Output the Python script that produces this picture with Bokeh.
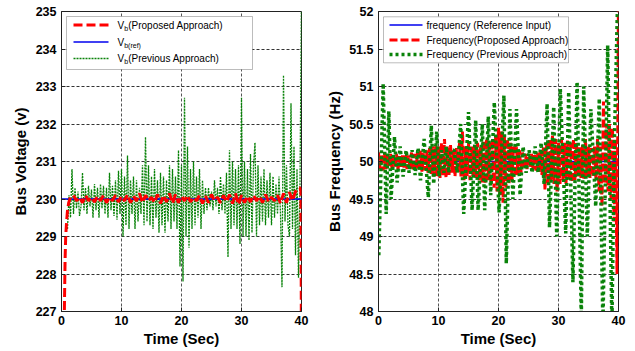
import numpy as np
from bokeh.plotting import figure
from bokeh.layouts import row
from bokeh.models import Range1d, FixedTicker, Label, BoxAnnotation, Arrow
from bokeh.embed import file_html
from bokeh.resources import INLINE

FONT = "Liberation Sans"

# ---------------- Left chart: bus voltage ----------------
v_ref_t = [0.0, 40.0]
v_ref = [230.0, 230.0]

v_prop_rise_t = [0.4, 0.5, 0.6, 0.7, 0.85, 1.0, 1.2, 1.5]
v_prop_rise = [226.0, 227.3, 228.4, 229.0, 229.4, 229.7, 229.9, 230.05]
v_prop_main = [
    230.1, 229.95, 230.05, 229.9, 230.1, 229.95, 230.05, 229.92, 230.08, 229.95,
    230.1, 229.9, 230.05, 229.95, 230.1, 229.92, 230.08, 229.95, 230.12, 229.9,
    230.08, 229.95, 230.15, 229.9, 230.1, 229.95, 230.05, 229.9, 230.12, 229.88,
    230.1, 229.92, 230.15, 229.88, 230.12, 229.9, 230.08, 229.95, 230.1, 229.92,
    230.05, 229.95, 230.1, 229.88, 230.08, 229.9, 230.12, 229.95, 230.05, 229.9,
    230.1, 229.92, 230.12, 229.88, 230.15, 229.85, 230.1, 229.9, 230.08, 229.92,
    230.1, 229.95, 230.08, 229.9, 230.12, 229.92, 230.05, 229.95, 230.1, 229.88,
    230.15, 229.9, 230.18, 229.95, 230.2, 230.3,
]
v_prop_tail_t = [39.75, 39.9, 40.0]
v_prop_tail = [230.3, 230.2, 225.5]

v_prev = [
    229.2, 230.1, 229.5, 230.8, 229.6, 230.3, 229.75, 230.2, 229.55, 229.8,
    230.7, 229.7, 230.3, 229.6, 230.35, 229.8, 230.25,
    229.5, 230.4, 229.7, 230.3, 229.5, 230.4, 229.75, 230.35, 229.6, 230.3,
    229.5, 230.7, 229.7, 230.35, 229.55, 230.5, 229.45, 230.75, 229.6, 230.8,
    229.0, 230.6, 229.3, 231.16, 229.2, 230.5, 229.6, 230.6, 229.2, 230.5,
    229.4, 230.3, 229.6, 230.9, 229.3, 231.65,
    229.4, 230.9, 229.3, 230.6, 229.2, 230.8, 229.5, 230.5, 229.1, 230.7,
    229.3, 230.6, 229.1, 230.5, 229.4, 230.9, 229.2, 230.8, 229.4, 230.6,
    229.2, 231.3, 228.2, 230.9,
    227.8, 232.7, 229.0, 231.4, 228.7, 230.8, 229.2, 231.0, 229.3, 230.6,
    229.5, 230.8, 229.2, 230.5, 229.6, 230.3,
    229.7, 230.3, 229.8, 230.2, 229.7, 230.5, 229.8, 230.3, 229.6, 230.6,
    229.7, 230.4, 229.6, 230.7, 228.45, 231.3,
    229.2, 231.0, 229.3, 230.8, 229.2, 230.9, 228.8, 232.7, 229.0, 231.0,
    229.0, 230.8, 228.9, 231.2, 229.1, 230.9,
    231.5, 229.0, 230.9, 229.3, 230.6, 229.4, 230.8, 229.3, 230.5, 229.5,
    230.7, 229.3, 230.6, 229.5, 230.4, 229.6,
    230.6, 229.6, 227.65, 233.3, 229.4, 230.9, 229.3, 229.0, 232.55, 229.2,
    231.4, 228.5, 230.8, 227.9, 230.4, 235.5,
]

# ---------------- Right chart: bus frequency ----------------
f_ref_t = [0.0, 40.0]
f_ref = [50.0, 50.0]

f_prop = [
    50.12, 49.9, 50.1, 49.88, 50.12, 49.9, 50.08, 49.92, 50.1, 49.9,
    50.08, 49.92, 50.1, 49.9, 50.07, 49.93, 50.08, 49.92, 50.1, 49.9, 50.08,
    49.9, 50.12, 49.88, 50.1, 49.9, 50.12, 49.88, 50.15, 49.85, 50.12,
    49.88, 50.15, 49.85, 50.18, 49.82, 50.2, 49.8, 50.22, 49.8, 50.2,
    49.78, 50.25, 49.8, 50.3, 49.78, 50.2, 49.82, 50.22, 49.85, 50.15,
    49.8, 50.18, 49.85, 50.25, 49.8, 50.4,
    49.75, 50.2, 49.8, 50.25, 49.75, 50.2, 49.8, 50.22, 49.78, 50.25,
    49.75, 50.2, 49.72, 50.28, 49.7, 50.3, 49.75, 50.25, 49.7, 50.3,
    49.65, 50.35, 49.6, 50.45,
    49.55, 50.4, 49.45, 50.35, 49.65, 50.3, 49.7, 50.25, 49.75, 50.2,
    49.8, 50.2, 49.82, 50.15, 49.85, 50.12,
    49.9, 50.1, 49.9, 50.08, 49.92, 50.1, 49.9, 50.1, 49.88, 50.12,
    49.85, 50.15, 49.82, 50.2, 49.62, 50.25,
    49.7, 50.3, 49.75, 50.35, 49.7, 50.3, 49.6, 50.25, 49.7, 50.3,
    49.75, 50.25, 49.7, 50.28, 49.75, 50.25,
    49.72, 50.3, 49.75, 50.25, 49.8, 50.2, 49.78, 50.22, 49.75, 50.3,
    49.8, 50.2, 49.78, 50.18, 49.8, 50.2,
    49.75, 50.3, 49.6, 50.2, 49.4, 50.8, 49.7, 50.5, 49.6, 50.5,
    49.5, 50.45, 49.2, 50.3, 48.5, 52.3,
]

f_prev_t = [
    0.05, 0.78, 1.28, 1.72, 2.1, 2.67, 3.1, 3.6, 4.1, 4.6,
    5.1, 5.6, 6.1, 6.6, 7.0, 7.6, 8.3, 8.8, 9.2, 9.7,
    10.1, 10.5, 10.9, 11.3, 11.7, 12.1, 12.6, 13.1, 13.7, 14.2,
    15.0, 15.6, 16.2, 16.6, 17.3, 17.7, 18.3, 18.7, 19.3, 20.1,
    20.9, 21.3, 21.9, 22.4, 23.0, 23.6, 24.1, 24.6, 25.1, 25.6,
    26.1, 26.6, 27.1, 27.6, 28.1, 28.5, 29.2, 29.7, 30.3, 31.2,
    31.7, 32.4, 33.1, 33.8, 34.2, 34.8, 35.4, 36.2, 36.8, 37.4,
    38.2, 38.9, 39.3, 39.95,
]
f_prev = [
    48.75, 51.04, 49.3, 50.67, 49.5, 50.33, 49.72, 50.2, 49.8, 50.15,
    49.85, 50.15, 49.82, 50.18, 49.75, 50.3, 49.52, 50.48, 49.7, 50.4,
    49.8, 50.15, 49.85, 50.2, 49.85, 50.15, 50.15, 49.85, 50.5, 49.3,
    50.66, 49.35, 50.55, 49.35, 50.5, 49.35, 50.6, 49.55, 50.79, 49.32,
    50.88, 48.64, 50.7, 49.5, 50.7, 49.55, 50.2, 49.85, 50.15, 49.85,
    50.2, 49.85, 50.25, 49.7, 50.77, 49.12, 50.73, 49.0, 50.97, 49.04,
    50.93, 48.39, 51.06, 47.9, 51.0, 49.0, 50.7, 49.4, 50.84, 47.8,
    51.55, 47.8, 50.2, 52.5,
]

# time axes of the sampled series
v_prop_t = v_prop_rise_t + [float(x) for x in np.arange(2.0, 39.51, 0.5)] + v_prop_tail_t
v_prop_all = v_prop_rise + v_prop_main + v_prop_tail
v_prev_t = np.arange(1.0, 40.001, 0.25)
f_prop_t = np.arange(0.0, 40.001, 0.25)

x_ticks = [0, 10, 20, 30, 40]
v_ticks = [227, 228, 229, 230, 231, 232, 233, 234, 235]
f_ticks = [48, 48.5, 49, 49.5, 50, 50.5, 51, 51.5, 52]
f_tick_labels = {48: "48", 48.5: "48.5", 49: "49", 49.5: "49.5", 50: "50",
                 50.5: "50.5", 51: "51", 51.5: "51.5", 52: "52"}

FW, FH = 240, 300
GREEN = "#0a830a"


def make_fig(ylo, yhi, yticks, ylabel, left_border, right_border, label_standoff):
    p = figure(frame_width=FW, frame_height=FH, output_backend="svg",
               toolbar_location=None, x_range=Range1d(0, 40),
               y_range=Range1d(ylo, yhi),
               min_border_left=left_border, min_border_right=right_border,
               min_border_top=11, min_border_bottom=38)
    p.background_fill_color = "white"
    p.border_fill_color = "white"
    p.outline_line_color = "#222222"
    p.outline_line_width = 1
    p.xaxis.ticker = FixedTicker(ticks=x_ticks)
    p.yaxis.ticker = FixedTicker(ticks=yticks)
    for ax in (p.xaxis[0], p.yaxis[0]):
        ax.major_label_text_font = FONT
        ax.major_label_text_font_style = "bold"
        ax.major_label_text_font_size = "12.5px"
        ax.major_label_text_color = "black"
        ax.axis_label_text_font = FONT
        ax.axis_label_text_font_style = "bold"
        ax.axis_label_text_font_size = "15px"
        ax.axis_label_text_color = "black"
        ax.major_tick_in = 4
        ax.major_tick_out = 0
        ax.minor_tick_line_color = None
        ax.axis_line_color = "#222222"
        ax.major_tick_line_color = "#222222"
    p.xaxis.major_label_standoff = 4
    p.yaxis.major_label_standoff = 5
    p.xaxis.axis_label = "Time (Sec)"
    p.xaxis.axis_label_standoff = 2
    p.yaxis.axis_label = ylabel
    p.yaxis.axis_label_standoff = label_standoff
    p.xgrid.grid_line_color = "#555555"
    p.ygrid.grid_line_color = "#333333"
    p.xgrid.grid_line_dash = "3 2"
    p.ygrid.grid_line_dash = "3 2"
    p.xgrid.grid_line_width = 1
    p.ygrid.grid_line_width = 1
    return p


def add_legend(p, box, rows, line_x, text_x, items):
    left, right, top, bottom = box
    p.add_layout(BoxAnnotation(left=left, right=right, top=FH - top, bottom=FH - bottom,
                               left_units="screen", right_units="screen",
                               top_units="screen", bottom_units="screen",
                               fill_color="white", fill_alpha=1.0,
                               line_color="#222222", line_width=1))
    for ry, (color, width, dash, parts) in zip(rows, items):
        p.add_layout(Arrow(start=None, end=None, x_start=line_x[0], x_end=line_x[1],
                           y_start=FH - ry, y_end=FH - ry,
                           start_units="screen", end_units="screen",
                           line_color=color, line_width=width, line_dash=dash))
        x = text_x
        for txt, size, dy, adv in parts:
            p.add_layout(Label(x=x, y=FH - ry - dy, x_units="screen", y_units="screen",
                               text=txt, text_font=FONT, text_font_size=f"{size}px",
                               text_baseline="middle", text_align="left",
                               text_color="black"))
            x += adv


# ---- left figure
p1 = make_fig(227, 235, v_ticks, "Bus Voltage (v)", 61, 17, 4)
p1.line(v_prev_t, v_prev, line_color=GREEN, line_width=1.3, line_dash="2 1")
p1.line(v_ref_t, v_ref, line_color="#0000ee", line_width=1.5)
p1.line(v_prop_t, v_prop_all, line_color="#ff0000", line_width=3, line_dash="9 4")

add_legend(p1, (5, 191, 5, 58), [13.5, 30.5, 47.0], (12, 47), 56,
           [("#ff0000", 3, "9 4", [("V", 10, 0, 6.7), ("b", 7, 3, 4.0),
                                     ("(Proposed Approach)", 10, 0, 0)]),
            ("#0000ee", 1.5, "solid", [("V", 10, 0, 6.7), ("b(ref)", 7, 3, 0)]),
            (GREEN, 1.3, "2 1", [("V", 10, 0, 6.7), ("b", 7, 3, 4.0),
                                  ("(Previous Approach)", 10, 0, 0)])])

# ---- right figure
p2 = make_fig(48, 52, f_ticks, "Bus Frequency (Hz)", 60, 16, 3)
p2.yaxis.major_label_overrides = f_tick_labels
p2.line(f_ref_t, f_ref, line_color="#0000ee", line_width=1.5)
p2.line(f_prop_t, f_prop, line_color="#ff0000", line_width=3, line_dash="8 3")
p2.line(f_prev_t, f_prev, line_color=GREEN, line_width=3.5, line_dash="3 3")

add_legend(p2, (5, 190, 5.3, 51.3), [13.5, 28.5, 43.0], (11, 44), 48,
           [("#0000ee", 1.5, "solid", [("frequency (Reference Input)", 10, 0, 0)]),
            ("#ff0000", 3, "8 3", [("Frequency(Proposed Approach)", 10, 0, 0)]),
            (GREEN, 3.5, "3 3", [("Frequency (Previous Approach)", 10, 0, 0)])])

layout = row(p1, p2)
open("out.html", "w").write(file_html(layout, INLINE))
